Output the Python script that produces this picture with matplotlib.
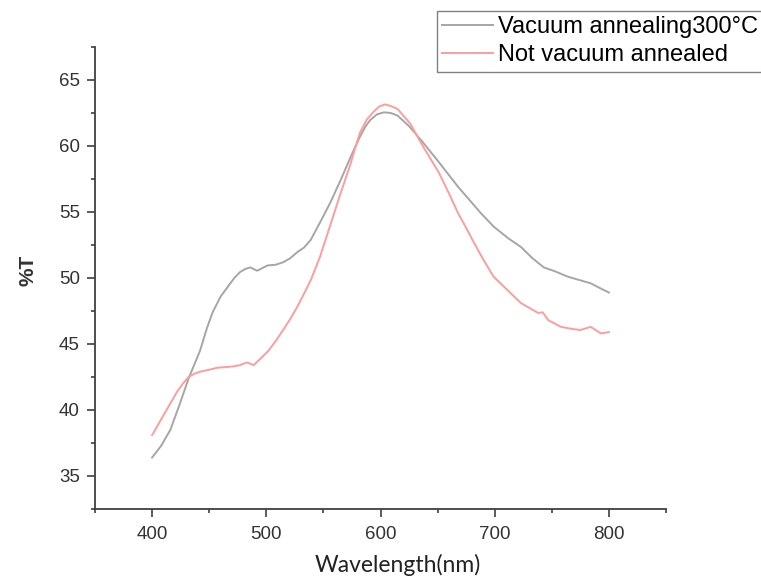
import matplotlib.pyplot as plt
from matplotlib.ticker import MultipleLocator

# Vacuum annealing 300 °C (gray curve)
wl_vac = [400, 408, 416, 424, 432, 442, 448, 453, 460, 466, 472, 477, 482,
          486, 492, 501, 508, 515, 521, 527, 533, 539, 547, 556, 565, 574,
          582, 587, 591, 597, 603, 609, 615, 625, 635, 650, 668, 688, 699,
          712, 723, 733, 743, 753, 764, 774, 784, 793, 800]
t_vac = [36.4, 37.3, 38.5, 40.4, 42.4, 44.5, 46.2, 47.4, 48.6, 49.3, 50.0,
         50.45, 50.7, 50.8, 50.55, 50.95, 51.0, 51.2, 51.5, 51.95, 52.3, 52.9,
         54.2, 55.7, 57.4, 59.2, 60.7, 61.5, 61.97, 62.4, 62.55, 62.5, 62.3,
         61.5, 60.5, 58.9, 56.9, 54.9, 53.9, 53.0, 52.35, 51.5, 50.8, 50.5,
         50.1, 49.85, 49.6, 49.2, 48.9]

# Not vacuum annealed (pink curve)
wl_raw = [400, 408, 416, 422, 427, 432, 437, 442, 450, 457, 464, 471, 477,
          483, 489, 495, 502, 508, 515, 521, 527, 533, 539, 547, 556, 565,
          574, 578, 582, 588, 594, 599, 604, 610, 615, 620, 626, 637, 644,
          651, 660, 668, 675, 682, 690, 699, 711, 723, 731, 738, 742, 747,
          758, 767, 775, 784, 793, 800]
t_raw = [38.1, 39.3, 40.5, 41.4, 42.0, 42.5, 42.75, 42.9, 43.05, 43.2, 43.25,
         43.3, 43.4, 43.6, 43.4, 43.9, 44.5, 45.2, 46.1, 46.9, 47.8, 48.8,
         49.85, 51.6, 54.0, 56.4, 58.7, 59.9, 61.0, 62.0, 62.6, 63.0, 63.15,
         63.0, 62.8, 62.3, 61.7, 60.0, 59.0, 58.0, 56.4, 54.9, 53.8, 52.65,
         51.4, 50.1, 49.1, 48.1, 47.7, 47.35, 47.4, 46.8, 46.3, 46.15, 46.06,
         46.3, 45.8, 45.9]

labels = ["Vacuum annealing300°C", "Not vacuum annealed"]

plt.rcParams['font.family'] = ['Liberation Sans', 'DejaVu Sans']

fig = plt.figure(figsize=(7.61, 5.88), dpi=100)
ax = fig.add_axes([95 / 761, 79 / 588, 571 / 761, 462 / 588])

ax.plot(wl_vac, t_vac, color="#a6a6a6", linewidth=1.4, label=labels[0])
ax.plot(wl_raw, t_raw, color="#ff9c9c", linewidth=1.4, label=labels[1])

ax.set_xlim(350, 850)
ax.set_ylim(32.5, 67.5)
ax.xaxis.set_major_locator(MultipleLocator(100))
ax.xaxis.set_minor_locator(MultipleLocator(50))
ax.yaxis.set_major_locator(MultipleLocator(5))
ax.yaxis.set_minor_locator(MultipleLocator(2.5))

for s in ["top", "right"]:
    ax.spines[s].set_visible(False)
for s in ["left", "bottom"]:
    ax.spines[s].set_linewidth(1.3)
    ax.spines[s].set_color("#404040")

ax.tick_params(which="major", direction="out", length=6, width=1.2,
               color="#404040", labelsize=13.5, labelcolor="#333333")
ax.tick_params(which="minor", direction="out", length=3, width=1.2,
               color="#404040")
ax.tick_params(axis="y", pad=5)
ax.tick_params(axis="x", pad=6)

ax.set_xlabel("Wavelength(nm)", family="Lato", fontsize=16.5, color="#222222")
ax.xaxis.set_label_coords(0.531, -0.098)
ax.set_ylabel("%T", fontsize=15, fontweight="bold", color="#333333")
ax.yaxis.set_label_coords(-0.100, 0.517)

fig.legend(loc="upper left", bbox_to_anchor=(437 / 761, 1 - 11 / 588),
           fontsize=17, handlelength=2.15, handletextpad=0.2,
           borderpad=0.22, labelspacing=0.26, borderaxespad=0,
           fancybox=False, edgecolor="#808080", framealpha=1)

fig.savefig("out.png", dpi=100)
